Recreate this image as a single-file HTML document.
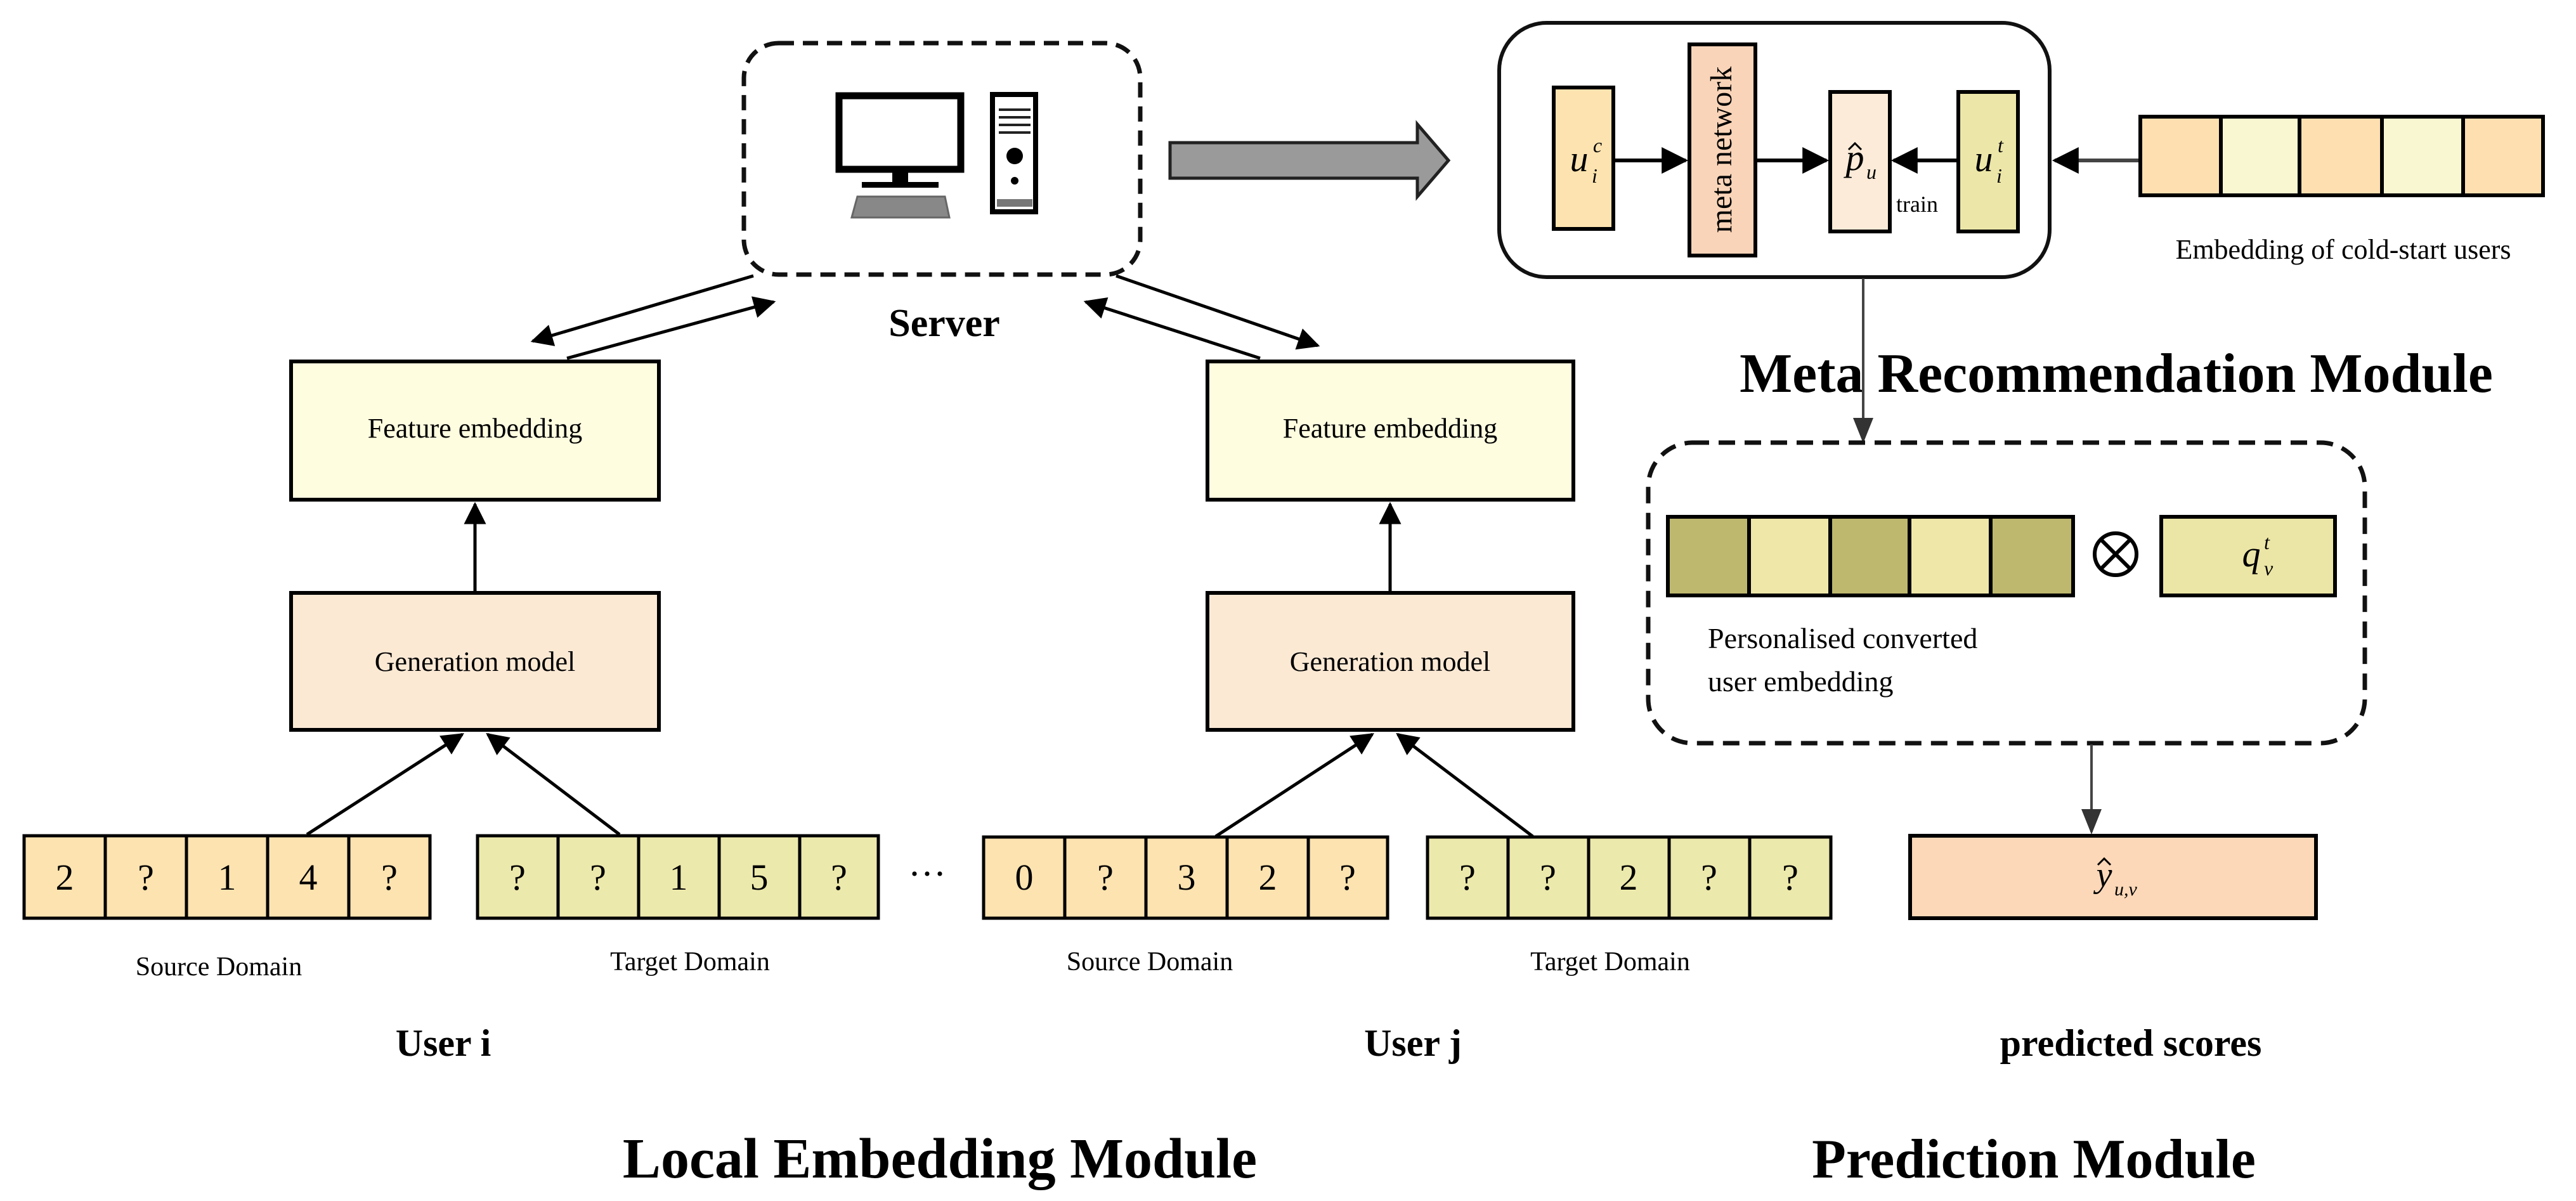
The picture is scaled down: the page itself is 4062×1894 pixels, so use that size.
<!DOCTYPE html>
<html><head><meta charset="utf-8"><style>
html,body{margin:0;padding:0;background:#fff;}
svg{display:block;}
text{font-family:"Liberation Serif",serif;}
</style></head><body>
<svg width="4062" height="1894" viewBox="0 0 4062 1894" xmlns="http://www.w3.org/2000/svg">
<defs>
<marker id="ah" viewBox="0 0 10 10" refX="9" refY="5" markerWidth="8" markerHeight="7" orient="auto-start-reverse" markerUnits="strokeWidth"><path d="M0,0 L10,5 L0,10 z" fill="#000"/></marker>
<marker id="ag" viewBox="0 0 10 10" refX="9" refY="5" markerWidth="10" markerHeight="10" orient="auto" markerUnits="strokeWidth"><path d="M0,1 L10,5 L0,9 z" fill="#333"/></marker>
</defs>

<rect x="1173" y="68" width="625" height="365" rx="55" fill="none" stroke="#111" stroke-width="7" stroke-dasharray="24,14"/>
<rect x="1323" y="151" width="192" height="116" fill="#fff" stroke="#000" stroke-width="11"/>
<rect x="1407" y="270" width="25" height="20" fill="#000"/>
<rect x="1359" y="287" width="121" height="9" fill="#000"/>
<path d="M1352,310 L1490,310 L1497,343 L1343,343 Z" fill="#888" stroke="#666" stroke-width="3"/>
<rect x="1565" y="149" width="68" height="185" fill="#fff" stroke="#000" stroke-width="8"/>
<rect x="1575" y="171" width="50" height="4" fill="#222"/>
<rect x="1575" y="183" width="50" height="4" fill="#222"/>
<rect x="1575" y="195" width="50" height="4" fill="#222"/>
<rect x="1575" y="207" width="50" height="4" fill="#222"/>
<circle cx="1600" cy="246" r="13" fill="#000"/>
<circle cx="1600" cy="285" r="6" fill="#000"/>
<rect x="1572" y="314" width="56" height="12" fill="#777"/>

<path d="M1845,225 L2235,225 L2235,196 L2284,253 L2235,310 L2235,281 L1845,281 Z" fill="#9a9a9a" stroke="#222" stroke-width="5"/>

<text x="1489" y="530" font-size="62" font-weight="bold" text-anchor="middle">Server</text>

<line x1="1188" y1="435" x2="840" y2="538" stroke="#000" stroke-width="5" marker-end="url(#ah)"/>
<line x1="894" y1="565" x2="1220" y2="476" stroke="#000" stroke-width="5" marker-end="url(#ah)"/>
<line x1="1987" y1="565" x2="1712" y2="476" stroke="#000" stroke-width="5" marker-end="url(#ah)"/>
<line x1="1760" y1="435" x2="2078" y2="545" stroke="#000" stroke-width="5" marker-end="url(#ah)"/>

<rect x="459" y="570" width="580" height="218" fill="#fffde0" stroke="#000" stroke-width="6"/>
<text x="749" y="690" font-size="44" text-anchor="middle">Feature embedding</text>
<rect x="1904" y="570" width="577" height="218" fill="#fffde0" stroke="#000" stroke-width="6"/>
<text x="2192" y="690" font-size="44" text-anchor="middle">Feature embedding</text>

<rect x="459" y="935" width="580" height="216" fill="#fbe9d4" stroke="#000" stroke-width="6"/>
<text x="749" y="1058" font-size="44" text-anchor="middle">Generation model</text>
<rect x="1904" y="935" width="577" height="216" fill="#fbe9d4" stroke="#000" stroke-width="6"/>
<text x="2192" y="1058" font-size="44" text-anchor="middle">Generation model</text>

<line x1="749" y1="932" x2="749" y2="795" stroke="#000" stroke-width="5" marker-end="url(#ah)"/>
<line x1="2192" y1="932" x2="2192" y2="795" stroke="#000" stroke-width="5" marker-end="url(#ah)"/>

<line x1="484" y1="1316" x2="729" y2="1158" stroke="#000" stroke-width="5" marker-end="url(#ah)"/>
<line x1="977" y1="1316" x2="769" y2="1158" stroke="#000" stroke-width="5" marker-end="url(#ah)"/>
<line x1="1917" y1="1319" x2="2164" y2="1158" stroke="#000" stroke-width="5" marker-end="url(#ah)"/>
<line x1="2417" y1="1319" x2="2204" y2="1158" stroke="#000" stroke-width="5" marker-end="url(#ah)"/>

<g stroke="#000" stroke-width="5">
<g fill="#fde3b0">
<rect x="38" y="1318" width="128" height="130"/><rect x="166" y="1318" width="128" height="130"/><rect x="294" y="1318" width="128" height="130"/><rect x="422" y="1318" width="128" height="130"/><rect x="550" y="1318" width="128" height="130"/>
<rect x="1551" y="1320" width="128" height="128"/><rect x="1679" y="1320" width="128" height="128"/><rect x="1807" y="1320" width="128" height="128"/><rect x="1935" y="1320" width="128" height="128"/><rect x="2063" y="1320" width="125" height="128"/>
</g>
<g fill="#ece9ac">
<rect x="753" y="1318" width="127" height="130"/><rect x="880" y="1318" width="127" height="130"/><rect x="1007" y="1318" width="127" height="130"/><rect x="1134" y="1318" width="127" height="130"/><rect x="1261" y="1318" width="124" height="130"/>
<rect x="2251" y="1320" width="127" height="128"/><rect x="2378" y="1320" width="127" height="128"/><rect x="2505" y="1320" width="127" height="128"/><rect x="2632" y="1320" width="127" height="128"/><rect x="2759" y="1320" width="128" height="128"/>
</g>
</g>
<g font-size="58" text-anchor="middle">
<text x="102" y="1403">2</text><text x="230" y="1403">?</text><text x="358" y="1403">1</text><text x="486" y="1403">4</text><text x="614" y="1403">?</text>
<text x="816" y="1403">?</text><text x="943" y="1403">?</text><text x="1070" y="1403">1</text><text x="1197" y="1403">5</text><text x="1323" y="1403">?</text>
<text x="1615" y="1403">0</text><text x="1743" y="1403">?</text><text x="1871" y="1403">3</text><text x="1999" y="1403">2</text><text x="2125" y="1403">?</text>
<text x="2314" y="1403">?</text><text x="2441" y="1403">?</text><text x="2568" y="1403">2</text><text x="2695" y="1403">?</text><text x="2823" y="1403">?</text>
</g>
<text x="1462" y="1398" font-size="60" text-anchor="middle">···</text>

<g font-size="42" text-anchor="middle">
<text x="345" y="1538">Source Domain</text>
<text x="1088" y="1530">Target Domain</text>
<text x="1813" y="1530">Source Domain</text>
<text x="2539" y="1530">Target Domain</text>
</g>
<g font-size="60" font-weight="bold" text-anchor="middle">
<text x="699" y="1665">User i</text>
<text x="2228" y="1665">User j</text>
<text x="3360" y="1665">predicted scores</text>
</g>
<g font-weight="bold" text-anchor="middle">
<text x="1482" y="1857" font-size="90">Local Embedding Module</text>
<text x="3207" y="1857" font-size="88">Prediction Module</text>
<text x="3337" y="618" font-size="88">Meta Recommendation Module</text>
</g>

<rect x="2364" y="36" width="868" height="401" rx="75" fill="#fff" stroke="#111" stroke-width="6"/>
<rect x="2450" y="138" width="94" height="223" fill="#fde3b0" stroke="#000" stroke-width="6"/>
<text x="2490" y="270" font-size="58" font-style="italic" text-anchor="middle">u</text>
<text x="2512" y="240" font-size="32" font-style="italic">c</text>
<text x="2510" y="288" font-size="32" font-style="italic">i</text>
<rect x="2664" y="70" width="104" height="333" fill="#f9d4b8" stroke="#000" stroke-width="6"/>
<text transform="translate(2730,236) rotate(-90)" font-size="48" text-anchor="middle">meta network</text>
<rect x="2886" y="145" width="94" height="220" fill="#fbebd8" stroke="#000" stroke-width="6"/>
<text x="2925" y="268" font-size="58" font-style="italic" text-anchor="middle">p</text>
<path d="M2915,236 L2925,226 L2935,236" fill="none" stroke="#000" stroke-width="3"/>
<text x="2943" y="282" font-size="32" font-style="italic">u</text>
<rect x="3088" y="145" width="94" height="220" fill="#ece7a8" stroke="#000" stroke-width="6"/>
<text x="3128" y="270" font-size="58" font-style="italic" text-anchor="middle">u</text>
<text x="3150" y="240" font-size="32" font-style="italic">t</text>
<text x="3148" y="288" font-size="32" font-style="italic">i</text>
<text x="2990" y="334" font-size="36">train</text>
<line x1="2547" y1="253" x2="2658" y2="253" stroke="#000" stroke-width="6" marker-end="url(#ah)"/>
<line x1="2771" y1="253" x2="2880" y2="253" stroke="#000" stroke-width="6" marker-end="url(#ah)"/>
<line x1="3085" y1="253" x2="2986" y2="253" stroke="#000" stroke-width="6" marker-end="url(#ah)"/>

<line x1="3372" y1="253" x2="3240" y2="253" stroke="#444" stroke-width="6" marker-end="url(#ah)"/>
<g stroke="#000" stroke-width="6">
<rect x="3375" y="184" width="127" height="124" fill="#fee0b0"/>
<rect x="3502" y="184" width="124" height="124" fill="#f8f7d2"/>
<rect x="3626" y="184" width="130" height="124" fill="#fee0b0"/>
<rect x="3756" y="184" width="128" height="124" fill="#f8f7d2"/>
<rect x="3884" y="184" width="126" height="124" fill="#fee0b0"/>
</g>
<text x="3695" y="408" font-size="44" text-anchor="middle">Embedding of cold-start users</text>

<line x1="2938" y1="439" x2="2938" y2="695" stroke="#444" stroke-width="4" marker-end="url(#ag)"/>

<rect x="2599" y="698" width="1130" height="474" rx="70" fill="none" stroke="#111" stroke-width="7" stroke-dasharray="26,15"/>
<g stroke="#000" stroke-width="6">
<rect x="2630" y="815" width="128" height="124" fill="#bdb86e"/>
<rect x="2758" y="815" width="128" height="124" fill="#eee7a8"/>
<rect x="2886" y="815" width="125" height="124" fill="#bdb86e"/>
<rect x="3011" y="815" width="128" height="124" fill="#eee7a8"/>
<rect x="3139" y="815" width="130" height="124" fill="#bdb86e"/>
<rect x="3408" y="815" width="274" height="124" fill="#ece6a6"/>
</g>
<circle cx="3336" cy="874" r="33" fill="none" stroke="#000" stroke-width="6"/>
<line x1="3313" y1="851" x2="3359" y2="897" stroke="#000" stroke-width="6"/>
<line x1="3359" y1="851" x2="3313" y2="897" stroke="#000" stroke-width="6"/>
<text x="3550" y="893" font-size="58" font-style="italic" text-anchor="middle">q</text>
<text x="3570" y="866" font-size="32" font-style="italic">t</text>
<text x="3570" y="907" font-size="32" font-style="italic">v</text>
<text x="2693" y="1022" font-size="46">Personalised converted</text>
<text x="2693" y="1090" font-size="46">user embedding</text>

<line x1="3298" y1="1174" x2="3298" y2="1312" stroke="#444" stroke-width="4" marker-end="url(#ag)"/>
<rect x="3012" y="1318" width="640" height="130" fill="#fcd8b8" stroke="#000" stroke-width="6"/>
<text x="3318" y="1398" font-size="56" font-style="italic" text-anchor="middle">y</text>
<path d="M3308,1364 L3318,1354 L3328,1364" fill="none" stroke="#000" stroke-width="3"/>
<text x="3334" y="1412" font-size="30" font-style="italic">u,v</text>
</svg>
</body></html>
